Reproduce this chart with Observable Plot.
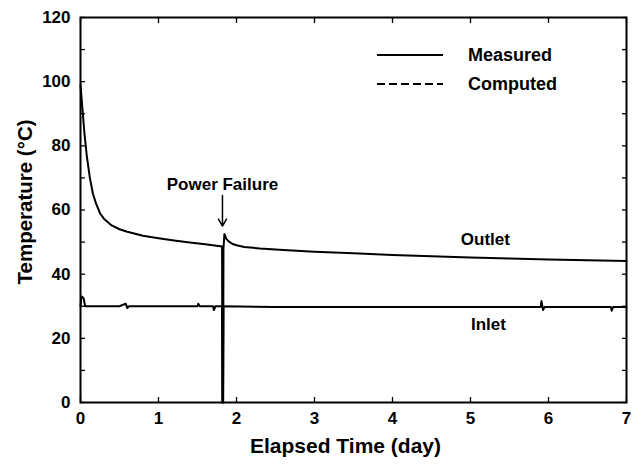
<!DOCTYPE html>
<html>
<head>
<meta charset="utf-8">
<script src="https://cdn.jsdelivr.net/npm/d3@7"></script>
<script src="https://cdn.jsdelivr.net/npm/@observablehq/plot@0.6"></script>
<style>
  html, body { margin: 0; padding: 0; background: #fff; }
  #wrap { position: relative; width: 641px; height: 466px; }
  #legend { position: absolute; left: 0; top: 0; }
  svg text { font-family: "Liberation Sans", Arial, sans-serif; font-weight: bold; }
</style>
</head>
<body>
<div id="wrap"></div>
<script>
// ---- data ----
const outletTime = [0, 0.01, 0.03, 0.05, 0.08, 0.12, 0.16, 0.2, 0.25, 0.3, 0.4, 0.5, 0.6, 0.8, 1.0, 1.2, 1.4, 1.6, 1.815,
  1.82, 1.828, 1.833, 1.845, 1.87, 1.9, 1.95, 2.0, 2.1, 2.3, 2.6, 3.0, 3.5, 4.0, 4.5, 5.0, 5.5, 6.0, 6.5, 7.0];
const outletTemp = [99, 96, 90, 84, 77, 70, 65, 62, 59, 57.3, 55.2, 54, 53.2, 52, 51.2, 50.5, 49.9, 49.3, 48.6,
  0, 0, 48, 52.5, 51, 50.2, 49.4, 49, 48.5, 48, 47.5, 47, 46.5, 46, 45.6, 45.2, 44.9, 44.6, 44.3, 44.1];

const inletTime = [0, 0.01, 0.02, 0.04, 0.06, 0.08, 0.5, 0.58, 0.6, 0.62, 1.5, 1.51, 1.53, 1.7, 1.71, 1.73, 1.815,
  1.82, 1.828, 1.833, 2.5, 3.5, 4.5, 5.9, 5.91, 5.93, 5.95, 6.8, 6.81, 6.83, 7.0];
const inletTemp = [30, 32.5, 33, 32.5, 30, 30, 30, 30.8, 29.4, 30, 30, 30.8, 30, 30, 28.8, 30, 30,
  0, 0, 30, 29.8, 29.8, 29.8, 29.8, 31.6, 28.8, 29.8, 29.8, 28.6, 29.8, 29.8];

const xTicks = [0, 1, 2, 3, 4, 5, 6, 7];
const yTicks = [0, 20, 40, 60, 80, 100, 120];
const yMinorTicks = [0, 10, 20, 30, 40, 50, 60, 70, 80, 90, 100, 110, 120];

const labelTexts = ["Outlet", "Inlet"];
const labelX = [5.19, 5.23];
const labelY = [50.7, 24.2];

const failureLabel = "Power Failure";
const failureTime = 1.82;
const failureLabelY = 68;
const failureArrowY = [64.5, 55];

const legendNames = ["Measured", "Computed"];

const xTitle = "Elapsed Time (day)";
const yTitle = "Temperature (°C)";

// ---- build tables ----
const outlet = outletTime.map((t, i) => ({t, v: outletTemp[i]}));
const inlet = inletTime.map((t, i) => ({t, v: inletTemp[i]}));
const labels = labelTexts.map((s, i) => ({s, x: labelX[i], y: labelY[i]}));

const font = "Liberation Sans, Arial, sans-serif";

const chart = Plot.plot({
  width: 641,
  height: 466,
  marginLeft: 80,
  marginRight: 15,
  marginTop: 17,
  marginBottom: 64,
  style: {fontFamily: font, fontSize: "17px", fontWeight: "bold", background: "#fff", color: "#000"},
  x: {domain: [0, 7]},
  y: {domain: [0, 120]},
  marks: [
    // tick labels
    Plot.axisX(xTicks, {anchor: "bottom", tickSize: 0, tickPadding: 9, fontSize: 17, label: null}),
    Plot.axisY(yTicks, {anchor: "left", tickSize: 0, tickPadding: 10, fontSize: 17, label: null}),
    // inward ticks on all sides
    Plot.axisX(xTicks, {anchor: "bottom", tickSize: -5, tickFormat: () => "", label: null, strokeWidth: 1.3}),
    Plot.axisX(xTicks, {anchor: "top", tickSize: -5, tickFormat: () => "", label: null, strokeWidth: 1.3}),
    Plot.axisY(yMinorTicks, {anchor: "left", tickSize: -5, tickFormat: () => "", label: null, strokeWidth: 1.3}),
    Plot.axisY(yMinorTicks, {anchor: "right", tickSize: -5, tickFormat: () => "", label: null, strokeWidth: 1.3}),
    // axis titles
    Plot.text([xTitle], {frameAnchor: "bottom", lineAnchor: "middle", textAnchor: "middle", dx: -8, dy: 44, fontSize: 21, fill: "#000"}),
    Plot.text([yTitle], {frameAnchor: "left", lineAnchor: "middle", textAnchor: "middle", dx: -55, dy: -8, rotate: -90, fontSize: 20.5, fill: "#000"}),
    // data
    Plot.line(outlet, {x: "t", y: "v", stroke: "#000", strokeWidth: 2}),
    Plot.line(inlet, {x: "t", y: "v", stroke: "#000", strokeWidth: 2}),
    // annotations
    Plot.text(labels, {x: "x", y: "y", text: "s", fontSize: 17, fill: "#000"}),
    Plot.text([failureLabel], {x: failureTime, y: failureLabelY, fontSize: 17, fill: "#000"}),
    Plot.arrow([0], {x1: failureTime, x2: failureTime, y1: failureArrowY[0], y2: failureArrowY[1], stroke: "#000", strokeWidth: 1.5, headLength: 8}),
    Plot.frame({stroke: "#000", strokeWidth: 2})
  ]
});

const wrap = document.getElementById("wrap");
wrap.appendChild(chart);

// legend overlay (inside the plot frame, upper right)
const ns = "http://www.w3.org/2000/svg";
const leg = document.createElementNS(ns, "svg");
leg.setAttribute("id", "legend");
leg.setAttribute("width", 641);
leg.setAttribute("height", 466);
const legY = [55, 84];
legendNames.forEach((name, i) => {
  const ln = document.createElementNS(ns, "line");
  ln.setAttribute("x1", 377); ln.setAttribute("x2", 443);
  ln.setAttribute("y1", legY[i]); ln.setAttribute("y2", legY[i]);
  ln.setAttribute("stroke", "#000"); ln.setAttribute("stroke-width", 2);
  if (i === 1) ln.setAttribute("stroke-dasharray", "8,4");
  leg.appendChild(ln);
  const tx = document.createElementNS(ns, "text");
  tx.setAttribute("x", 468); tx.setAttribute("y", legY[i]);
  tx.setAttribute("dy", "0.35em");
  tx.setAttribute("font-size", 18);
  tx.setAttribute("fill", "#000");
  tx.textContent = name;
  leg.appendChild(tx);
});
wrap.appendChild(leg);
</script>
</body>
</html>
